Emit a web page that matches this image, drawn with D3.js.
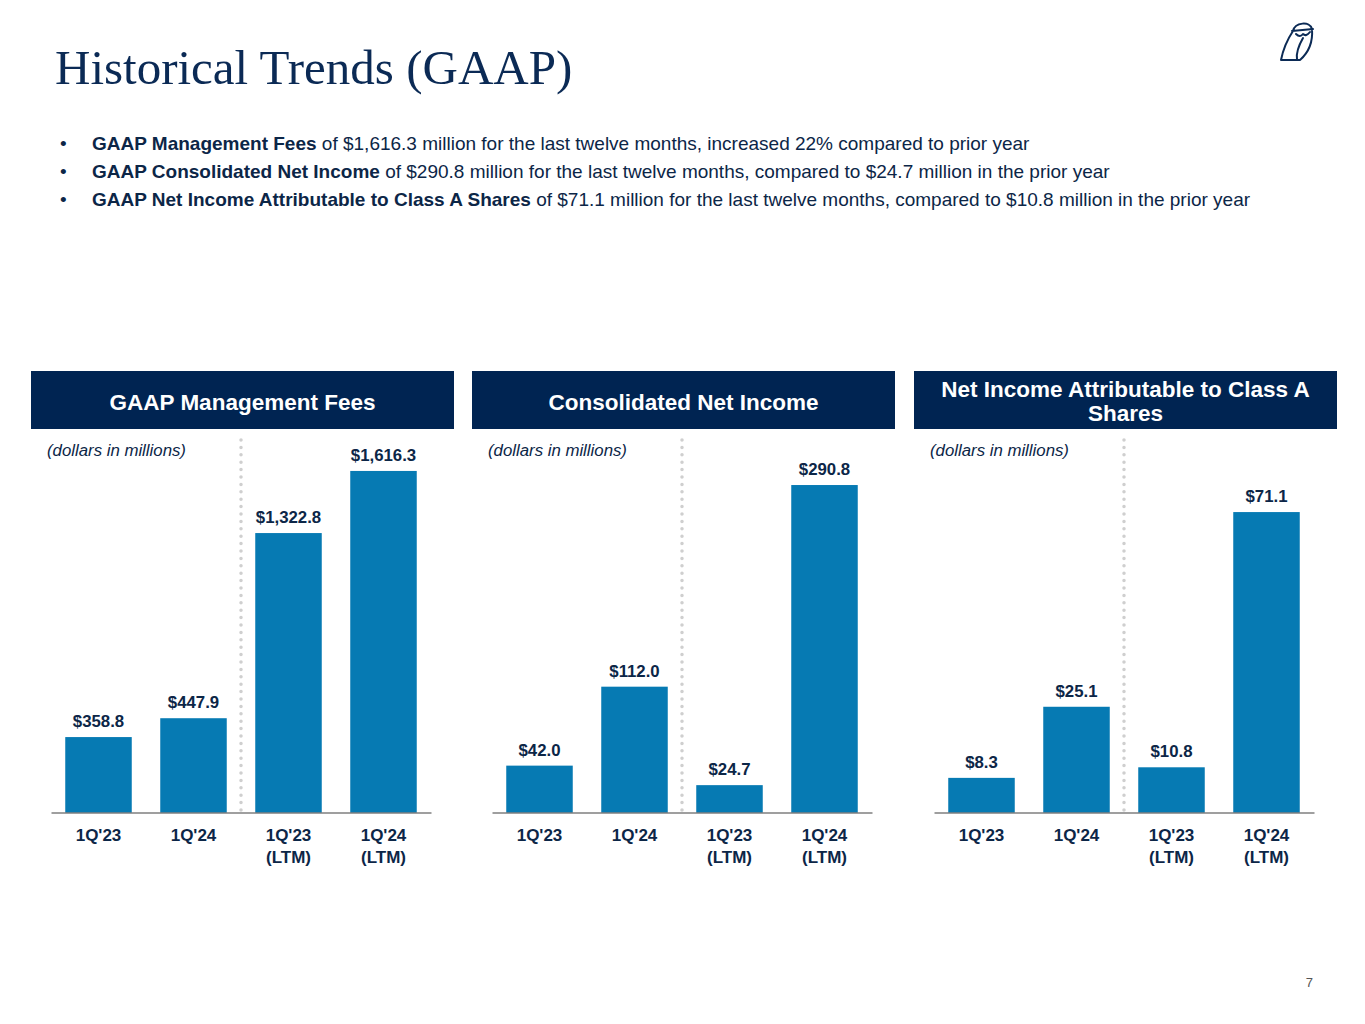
<!DOCTYPE html>
<html>
<head>
<meta charset="utf-8">
<script src="https://cdn.jsdelivr.net/npm/d3@7"></script>
<style>
	body { margin: 0; background: #fff; }
</style>
</head>
<body>
<script>
// chart data
var categories = ["1Q'23", "1Q'24", "1Q'23\n(LTM)", "1Q'24\n(LTM)"];
var panelTitles = ["GAAP Management Fees", "Consolidated Net Income", "Net Income Attributable to Class A\nShares"];
var mgmtFees = [358.8, 447.9, 1322.8, 1616.3];
var netIncome = [42.0, 112.0, 24.7, 290.8];
var classAIncome = [8.3, 25.1, 10.8, 71.1];
var valueLabels = [
	["$358.8", "$447.9", "$1,322.8", "$1,616.3"],
	["$42.0", "$112.0", "$24.7", "$290.8"],
	["$8.3", "$25.1", "$10.8", "$71.1"]
];
var axisMax = [1772, 332.5, 88.6];
var bullets = [
	["GAAP Management Fees", " of $1,616.3 million for the last twelve months, increased 22% compared to prior year"],
	["GAAP Consolidated Net Income", " of $290.8 million for the last twelve months, compared to $24.7 million in the prior year"],
	["GAAP Net Income Attributable to Class A Shares", " of $71.1 million for the last twelve months, compared to $10.8 million in the prior year"]
];
var series = [mgmtFees, netIncome, classAIncome];

var width = 1365;
var height = 1024;
var navy = "#0c2647";
var headerFill = "#002452";
var barFill = "#067ab3";

var svg = d3
	.select("body")
	.append("svg")
	.attr("width", width)
	.attr("height", height)
	.style("font-family", "Arial, 'Liberation Sans', sans-serif");

svg
	.append("text")
	.attr("x", 55)
	.attr("y", 84)
	.style("font-family", "'Liberation Serif', 'Times New Roman', serif")
	.style("font-size", "49px")
	.style("fill", "#0b2a55")
	.text("Historical Trends (GAAP)");

// owl logo
svg
	.append("g")
	.attr("transform", "translate(1275,18)")
	.append("path")
	.attr("d", "M18,13 C20,4 35,3 37,11 M17,13 L38,11 M37,11 C38,24 33,35 25,42 M18,13 C12,22 8,32 6,42 L25,42 M21,16 Q25,20 28,16 Q31,19 35,14 M28,20 C24,27 21,34 22,41")
	.style("fill", "none")
	.style("stroke", "#0b2a55")
	.style("stroke-width", 2)
	.style("stroke-linejoin", "round")
	.style("stroke-linecap", "round");

var bulletRows = svg
	.selectAll(".bullet")
	.data(bullets)
	.join("g")
	.attr("class", "bullet")
	.attr("transform", (d, i) => "translate(0," + (150 + i * 28) + ")");

bulletRows
	.append("text")
	.attr("x", 60)
	.style("font-size", "19px")
	.style("fill", navy)
	.text("\u2022");

var bulletText = bulletRows
	.append("text")
	.attr("x", 92)
	.style("font-size", "19px")
	.style("fill", navy);
bulletText.append("tspan").style("font-weight", "bold").text((d) => d[0]);
bulletText.append("tspan").text((d) => d[1]);

var panelLeft = [31, 472, 914];
var panelWidth = 423;
var baseY = 813;

series.forEach((values, p) => {
	var g = svg.append("g").attr("transform", "translate(" + panelLeft[p] + ",0)");

	g.append("rect")
		.attr("x", 0)
		.attr("y", 371)
		.attr("width", panelWidth)
		.attr("height", 58)
		.style("fill", headerFill);

	var titleLines = panelTitles[p].split("\n");
	g.append("text")
		.attr("x", panelWidth / 2)
		.attr("y", titleLines.length > 1 ? 397 : 410)
		.style("text-anchor", "middle")
		.style("font-size", "22.5px")
		.style("font-weight", "bold")
		.style("fill", "#fff")
		.selectAll("tspan")
		.data(titleLines)
		.join("tspan")
		.attr("x", panelWidth / 2)
		.attr("dy", (d, i) => (i === 0 ? 0 : 24))
		.text((d) => d);

	g.append("text")
		.attr("x", 16)
		.attr("y", 456)
		.style("font-size", "16.8px")
		.style("font-style", "italic")
		.style("fill", navy)
		.text("(dollars in millions)");

	var x = d3
		.scaleBand()
		.domain(categories)
		.range([20, 400])
		.paddingInner(0.3)
		.paddingOuter(0.15);

	var y = d3.scaleLinear().domain([0, axisMax[p]]).range([baseY, 438]);

	var dividerX = x(categories[2]) - (x.step() - x.bandwidth()) / 2;
	g.append("line")
		.attr("x1", dividerX)
		.attr("x2", dividerX)
		.attr("y1", 440)
		.attr("y2", baseY)
		.style("stroke", "#cfcfcf")
		.style("stroke-width", 3.5)
		.style("stroke-linecap", "round")
		.style("stroke-dasharray", "0,7.4");

	g.selectAll(".bar")
		.data(values)
		.join("rect")
		.attr("class", "bar")
		.attr("x", (d, i) => x(categories[i]))
		.attr("y", (d) => y(d))
		.attr("width", x.bandwidth())
		.attr("height", (d) => baseY - y(d))
		.style("fill", barFill);

	g.selectAll(".value")
		.data(values)
		.join("text")
		.attr("class", "value")
		.attr("x", (d, i) => x(categories[i]) + x.bandwidth() / 2)
		.attr("y", (d) => y(d) - 10)
		.style("text-anchor", "middle")
		.style("font-size", "16.8px")
		.style("font-weight", "bold")
		.style("fill", navy)
		.text((d, i) => valueLabels[p][i]);

	var axis = g
		.append("g")
		.attr("transform", "translate(0," + baseY + ")")
		.call(d3.axisBottom(x).tickSize(0).tickFormat(""));
	axis.select(".domain").attr("d", "M20.5,0H400.5").style("stroke", "#7f7f7f").style("stroke-width", 1.5);

	axis.selectAll(".tick text").remove();
	axis
		.selectAll(".tick")
		.append("text")
		.attr("y", 28)
		.style("text-anchor", "middle")
		.style("font-size", "17px")
		.style("font-weight", "bold")
		.style("fill", navy)
		.style("font-family", "Arial, 'Liberation Sans', sans-serif")
		.selectAll("tspan")
		.data((d) => d.split("\n"))
		.join("tspan")
		.attr("x", 0)
		.attr("dy", (d, i) => (i === 0 ? 0 : 22))
		.text((d) => d);
});

svg
	.append("text")
	.attr("x", 1313)
	.attr("y", 987)
	.style("text-anchor", "end")
	.style("font-size", "13px")
	.style("fill", "#555")
	.text("7");
</script>
</body>
</html>
